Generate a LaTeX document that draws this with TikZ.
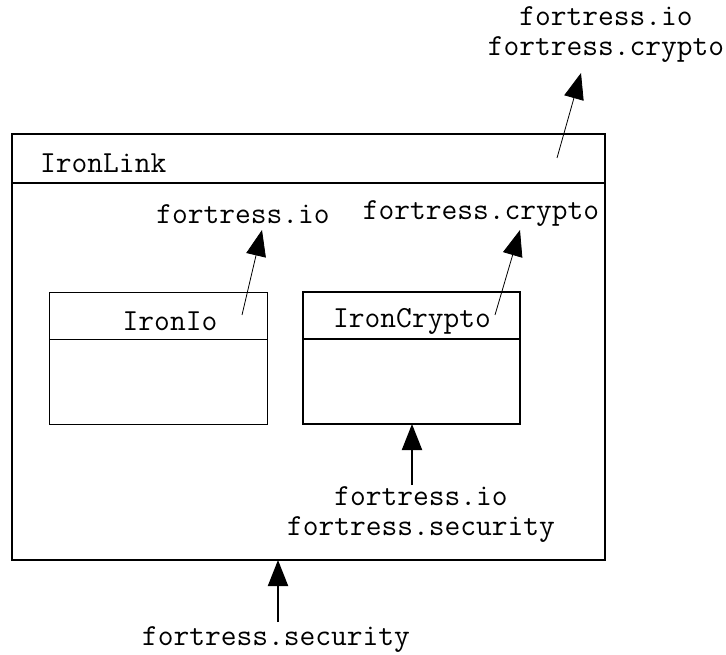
\documentclass[tikz,border=0pt]{standalone}
\usetikzlibrary{arrows.meta}
\begin{document}
\begin{tikzpicture}[x=1pt,y=-1pt,
  lbl/.style={font=\ttfamily\fontsize{30.6}{30}\selectfont, inner sep=0pt, align=center},
  thickbox/.style={draw, line width=2pt},
  thinbox/.style={draw, line width=0.7pt},
  thinarrow/.style={line width=0.8pt, -{Triangle[length=26pt,width=20pt]}},
  thickarrow/.style={line width=2pt, -{Triangle[length=26pt,width=20pt]}}]
\useasboundingbox (0,0) rectangle (726,655);
% outer component
\draw[thickbox] (12,134) rectangle (605,560);
\draw[line width=2pt] (12,183) -- (605,183);
\node[lbl, anchor=west] (ironlink) at (40,163) {IronLink};
% IronIo
\draw[thinbox] (49,292) rectangle (267,424);
\draw[line width=0.7pt] (49,339) -- (267,339);
\node[lbl] (ironio) at (170,321) {IronIo};
% IronCrypto
\draw[thickbox] (303,292) rectangle (520,424);
\draw[line width=2pt] (303,339) -- (520,339);
\node[lbl] (ironcrypto) at (412,321) {IronCrypto};
% labels
\node[lbl] (ioreq) at (243,214) {fortress.io};
\node[lbl] (cryptoreq) at (481,214) {fortress.crypto};
\node[lbl] (outer) at (606,35) {fortress.io\\fortress.crypto};
\node[lbl] (cryptoin) at (421,515) {fortress.io\\fortress.security};
\node[lbl] (secin) at (276,640) {fortress.security};
% connector ends
\coordinate (ioS) at (242,315);
\coordinate (ioT) at (262,230);
\coordinate (crS) at (495,315);
\coordinate (crT) at (520,230);
\coordinate (olS) at (557,158);
\coordinate (olT) at (581,73);
\coordinate (ciS) at (412,485);
\coordinate (ciT) at (412,424);
\coordinate (siS) at (278,622);
\coordinate (siT) at (278,560);
\draw[thinarrow] (ioS) -- (ioT);
\draw[thinarrow] (crS) -- (crT);
\draw[thinarrow] (olS) -- (olT);
\draw[thickarrow] (ciS) -- (ciT);
\draw[thickarrow] (siS) -- (siT);
\end{tikzpicture}
\end{document}
